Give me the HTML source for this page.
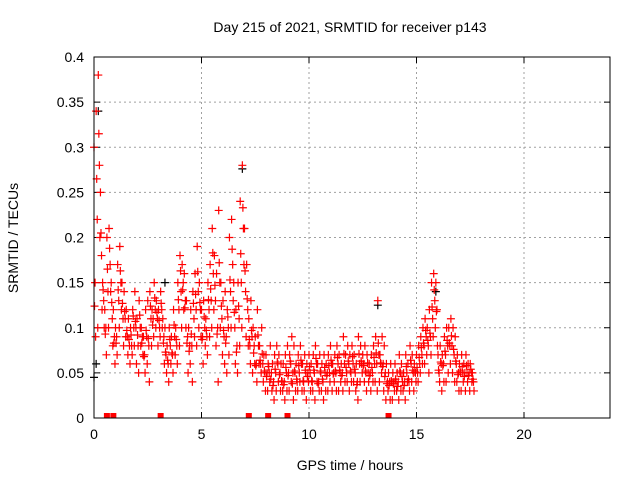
<!DOCTYPE html>
<html><head><meta charset="utf-8"><style>
body{margin:0;background:#fff;}
svg{display:block;font-family:"Liberation Sans",sans-serif;}
</style></head><body>
<svg id="chart" width="640" height="480">
<text x="350" y="32" text-anchor="middle" font-size="14">Day 215 of 2021, SRMTID for receiver p143</text>
<text x="350" y="470" text-anchor="middle" font-size="14">GPS time / hours</text>
<text transform="translate(18,238) rotate(-90)" text-anchor="middle" font-size="14">SRMTID / TECUs</text>
<g id="grid"></g>
<g id="ticks"></g>
<g id="marks"></g>
<rect x="94" y="57" width="516" height="361" fill="none" stroke="#000" stroke-width="1"/>
</svg>
<script>
const xTicks=[0,5,10,15,20];
const yTicks=[0,0.05,0.1,0.15,0.2,0.25,0.3,0.35,0.4];
const yTickLabels=["0","0.05","0.1","0.15","0.2","0.25","0.3","0.35","0.4"];
const tStart=0, tStep=0.1;
const hi=[.3,.34,.38,.25,.15,.12,.2,.21,.15,.12,.1,.17,.19,.15,.14,.12,.11,.1,.12,.14,.11,.13,.1,.09,.12,.13,.14,.12,.15,.13,.12,.14,.11,.1,.08,.1,.09,.12,.1,.15,.18,.17,.16,.13,.1,.12,.14,.16,.19,.15,.12,.13,.11,.15,.17,.21,.18,.16,.23,.15,.13,.14,.12,.2,.22,.15,.12,.15,.24,.28,.21,.17,.11,.13,.1,.09,.12,.08,.1,.07,
.07,.06,.08,.06,.07,.08,.07,.06,.06,.07,.08,.07,.09,.08,.06,.07,.08,.06,.07,.06,.07,.06,.07,.08,.06,.07,.06,.07,.06,.07,.08,.06,.07,.08,.07,.06,.09,.07,.08,.07,.08,.07,.06,.09,.08,.07,.08,.07,.06,.07,.08,.09,.13,.07,.09,.08,.06,.05,.06,.05,.06,.05,.07,.06,.05,.07,.06,.08,.07,.06,.07,.08,.09,.1,.11,.1,.12,.15,.16,.15,.07,.08,.07,.09,.1,.1,.11,.1,.09,.07,.06,.07,.06,.07,.06,.06,.05];
const mid=[.15,.22,.28,.18,.13,.1,.14,.17,.11,.09,.09,.13,.15,.11,.11,.09,.08,.08,.1,.1,.08,.1,.09,.07,.09,.08,.11,.11,.12,.11,.1,.12,.09,.07,.06,.08,.07,.09,.08,.12,.14,.15,.13,.09,.08,.08,.11,.12,.14,.12,.09,.1,.09,.12,.13,.16,.13,.1,.15,.11,.09,.09,.1,.14,.17,.1,.08,.11,.15,.21,.14,.12,.08,.09,.08,.06,.08,.06,.06,.05,
.05,.05,.05,.04,.05,.06,.05,.04,.04,.05,.05,.06,.05,.05,.04,.05,.06,.04,.05,.05,.05,.04,.05,.06,.04,.05,.04,.05,.05,.05,.06,.05,.05,.06,.05,.05,.06,.05,.06,.05,.06,.05,.04,.06,.06,.06,.05,.05,.05,.05,.06,.06,.07,.06,.06,.05,.04,.04,.04,.04,.04,.04,.05,.04,.04,.05,.04,.06,.05,.05,.05,.06,.07,.08,.09,.08,.09,.11,.13,.12,.05,.06,.06,.07,.08,.08,.08,.07,.06,.05,.05,.05,.05,.05,.05,.05,.04];
const lo=[.09,.1,.2,.12,.1,.07,.1,.14,.08,.06,.07,.1,.12,.08,.09,.07,.06,.07,.08,.06,.05,.08,.07,.05,.06,.04,.08,.09,.1,.08,.09,.1,.06,.05,.04,.06,.05,.07,.06,.08,.1,.12,.1,.05,.06,.04,.09,.08,.1,.09,.06,.08,.07,.09,.1,.12,.08,.04,.1,.07,.06,.05,.07,.1,.13,.06,.05,.08,.1,.17,.09,.08,.06,.05,.06,.04,.06,.05,.04,.03,
.03,.04,.03,.02,.03,.04,.03,.03,.02,.03,.03,.04,.02,.03,.03,.04,.03,.03,.02,.04,.03,.03,.02,.04,.03,.03,.02,.03,.03,.04,.03,.04,.03,.03,.04,.03,.04,.04,.03,.04,.04,.03,.02,.04,.05,.04,.03,.04,.03,.04,.04,.03,.04,.05,.03,.02,.03,.02,.02,.03,.03,.02,.03,.03,.02,.04,.03,.04,.03,.04,.04,.05,.06,.06,.07,.05,.07,.09,.1,.08,.04,.03,.04,.04,.05,.06,.05,.04,.04,.03,.03,.04,.03,.04,.03,.04,.03];
const mid2=[.124,.265,.315,.205,.142,.093,.165,.188,.128,.083,.083,.142,.163,.127,.118,.097,.087,.092,.113,.107,.092,.114,.083,.068,.097,.088,.124,.103,.133,.117,.108,.127,.083,.073,.064,.087,.072,.103,.087,.131,.163,.142,.122,.083,.074,.093,.127,.137,.162,.128,.087,.112,.097,.131,.143,.183,.147,.093,.172,.124,.097,.083,.112,.153,.187,.117,.073,.124,.182,.233,.163,.132,.087,.097,.072,.058,.092,.064,.071,.052,
.046,.057,.043,.036,.054,.062,.048,.041,.037,.056,.047,.063,.038,.052,.043,.058,.064,.041,.053,.046,.057,.041,.053,.066,.038,.052,.043,.056,.047,.058,.064,.049,.052,.067,.053,.047,.071,.056,.063,.052,.068,.054,.037,.071,.063,.058,.052,.061,.047,.056,.067,.072,.083,.061,.057,.046,.038,.036,.041,.038,.043,.035,.052,.046,.036,.057,.043,.064,.053,.051,.056,.067,.078,.083,.097,.086,.094,.123,.142,.118,.053,.062,.058,.074,.086,.083,.091,.076,.063,.048,.052,.057,.046,.058,.047,.054,.043];
const blackT=[0,0.1,0.2,3.3,6.9,13.2,15.9];
const blackV=[0.045,0.06,0.34,0.15,0.276,0.125,0.14];
const zeroT=[0.6,0.9,3.1,7.2,8.1,9.0,13.7];

const NS="http://www.w3.org/2000/svg";
const X0=94,X1=610,Y0=418,Y1=57;
const xs=h=>X0+h/24*(X1-X0);
const ys=v=>Y0-v/0.4*(Y0-Y1);
function mk(tag,attrs,parent){const e=document.createElementNS(NS,tag);for(const k in attrs)e.setAttribute(k,attrs[k]);parent.appendChild(e);return e;}
const grid=document.getElementById('grid'),ticks=document.getElementById('ticks'),marks=document.getElementById('marks');
xTicks.forEach(t=>{
  const x=xs(t);
  if(t>0){const g=mk('line',{x1:x,x2:x,y1:Y1,y2:Y0,stroke:'#a0a0a0','stroke-dasharray':'2,3'},grid);
  
  }
  mk('line',{x1:x,x2:x,y1:Y0,y2:Y0-6,stroke:'#000'},ticks);
  mk('line',{x1:x,x2:x,y1:Y1,y2:Y1+6,stroke:'#000'},ticks);
  const l=mk('text',{x:x,y:Y0+21,'text-anchor':'middle','font-size':14},ticks);l.textContent=t;
  
  
});
yTicks.forEach((v,i)=>{
  const y=ys(v);
  if(v>0&&v<0.4){const g=mk('line',{x1:X0,x2:X1,y1:y,y2:y,stroke:'#a0a0a0','stroke-dasharray':'2,3'},grid);
  
  }
  mk('line',{x1:X0,x2:X0+6,y1:y,y2:y,stroke:'#000'},ticks);
  mk('line',{x1:X1,x2:X1-6,y1:y,y2:y,stroke:'#000'},ticks);
  const l=mk('text',{x:X0-10,y:y+5,'text-anchor':'end','font-size':14},ticks);l.textContent=yTickLabels[i];
  
  
});
function plus(h,v,color){
  const x=xs(h),y=ys(v);
  const p=mk('path',{d:`M${x-4},${y}H${x+4}M${x},${y-4}V${y+4}`,stroke:color,'stroke-width':1.2,fill:'none'},marks);
  
  
}
blackT.forEach((t,i)=>plus(t,blackV[i],'#000'));
const offsets=[0,0.025,0.05,0.075];
[hi,mid2,mid,lo].forEach((arr,k)=>arr.forEach((v,i)=>plus(tStart+i*tStep+offsets[k],v,'#f00')));
zeroT.forEach(t=>{
  const r=mk('rect',{x:xs(t)-3,y:Y0-5,width:6,height:5,fill:'#f00'},marks);
  
  
});
</script>
</body></html>
